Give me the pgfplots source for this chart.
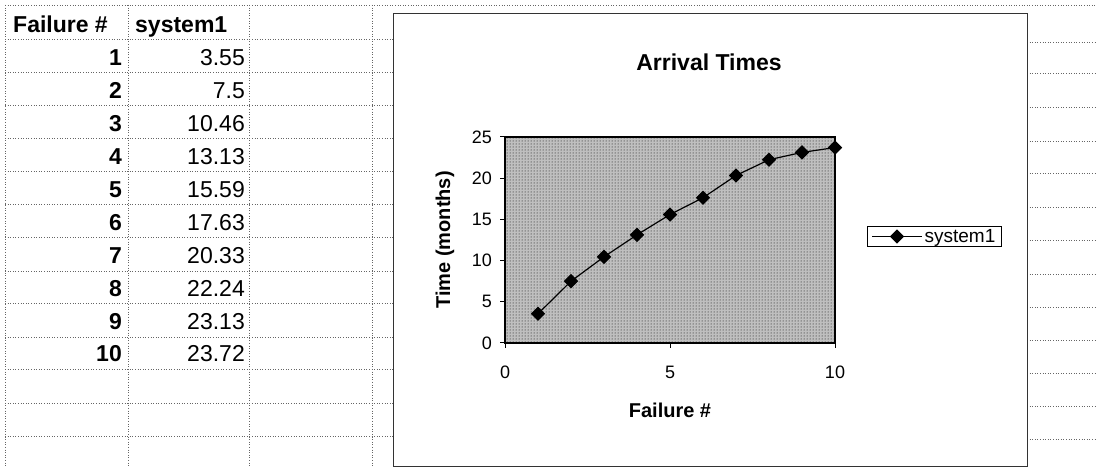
\documentclass[border=0pt]{standalone}
\usepackage{fontspec}
\setmainfont{Liberation Sans}
\usepackage{pgfplots}
\pgfplotsset{compat=1.18}
\usetikzlibrary{patterns}

\newcommand{\fs}[1]{\fontsize{#1}{#1}\selectfont}
\tikzset{grid line/.style={black!60, line width=0.8pt, dash pattern=on 1pt off 1.6pt}}

\begin{document}
\begin{tikzpicture}[x=1pt,y=1pt]
\path[use as bounding box, fill=white] (0,0) rectangle (1097,468);
% spreadsheet grid (rows measured from the top)
\foreach \r in {39,72,105,138,171,204,237,271,303,337,369,403,436}
  \draw[grid line] (5,468-\r) -- (393,468-\r);
\draw[grid line] (5,463) -- (1097,463);
\foreach \r in {42,73,107,141,173,207,240,274,307,340,373,406,439}
  \draw[grid line] (1027,468-\r) -- (1097,468-\r);
\foreach \c in {5,128,249,372}
  \draw[grid line] (\c,463) -- (\c,1);
% cells
\node[font=\fs{23}\bfseries, anchor=base west, inner sep=0] at (13,435) {Failure \#};
\node[font=\fs{23}\bfseries, anchor=base west, inner sep=0] at (135,435) {system1};
\foreach \n/\v [count=\k] in {1/3.55,2/7.5,3/10.46,4/13.13,5/15.59,6/17.63,7/20.33,8/22.24,9/23.13,10/23.72}{
  \node[font=\fs{23}\bfseries, anchor=base east, inner sep=0] at (122,{435-32.9*\k}) {\n};
  \node[font=\fs{23}, anchor=base east, inner sep=0] at (245,{435-32.9*\k}) {\v};
}
% chart area
\draw[draw=black!80, fill=white, line width=1pt] (393,454) rectangle (1027,1);
\node[font=\fs{23}\bfseries] at (709,406) {Arrival Times};

\begin{axis}[at={(505pt,125pt)}, anchor=south west, scale only axis,
  width=330pt, height=206pt,
  xmin=0, xmax=10, ymin=0, ymax=25,
  xtick={0,5,10}, ytick={0,5,10,15,20,25},
  clip=false, tick pos=left, tick align=outside,
  major tick length=5pt,
  axis line style={line width=1.2pt},
  tick style={black, line width=1pt},
  axis background/.style={fill=black!25, postaction={pattern=dots, pattern color=black}},
  /pgf/number format/assume math mode=true,
  xticklabel style={font=\fs{18}, anchor=north, inner sep=0pt, yshift=-18pt},
  yticklabel style={font=\fs{18}, anchor=east, inner sep=0pt, xshift=-8pt},
  xlabel={Failure \#},
  xlabel style={font=\fs{20}\bfseries, at={(axis description cs:0.5,-0.325)}, anchor=center},
  ylabel={Time (months)},
  ylabel style={font=\fs{20}\bfseries, at={(axis description cs:-0.182,0.5)}, anchor=center},
  legend style={at={(axis description cs:1.097,0.517)}, anchor=west,
    draw=black, line width=0.8pt, fill=white, font=\fs{19},
    inner xsep=4pt, inner ysep=0.5pt, nodes={inner sep=2pt}},
  legend image code/.code={\draw[mark repeat=2,mark phase=2,#1] plot coordinates {(0pt,0pt) (25pt,0pt) (50pt,0pt)};},
]
\addplot[black, line width=1.2pt, mark=square*, mark size=4.5pt, mark options={rotate=45}]
  coordinates {(1,3.55) (2,7.5) (3,10.46) (4,13.13) (5,15.59) (6,17.63) (7,20.33) (8,22.24) (9,23.13) (10,23.72)};
\addlegendentry{system1}
\end{axis}
\end{tikzpicture}
\end{document}
